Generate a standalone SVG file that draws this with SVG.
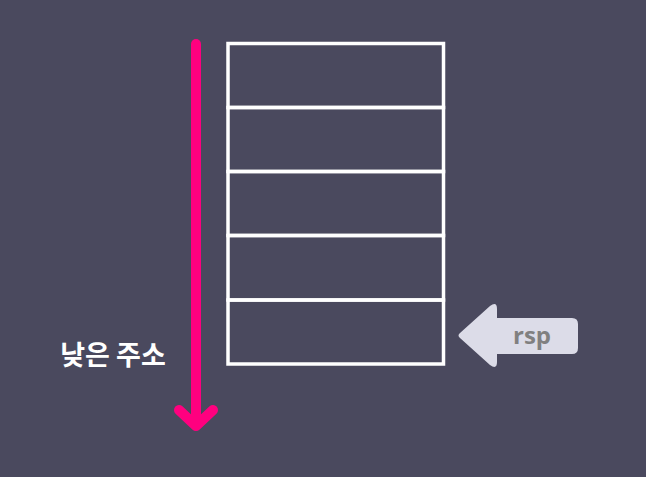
<svg xmlns="http://www.w3.org/2000/svg" width="646" height="477" viewBox="0 0 646 477">
<style>
.cell{fill:none;stroke:#ffffff;stroke-width:3.5}
.pink{fill:none;stroke:#ff007f;stroke-width:10;stroke-linecap:round;stroke-linejoin:round}
.lbl{font-family:"Noto Sans CJK KR","Noto Sans",sans-serif;font-weight:700;font-size:27px;fill:#ffffff}
.rsp{font-family:"Open Sans","Noto Sans",sans-serif;font-weight:700;font-size:24px;fill:#808080}
</style>
<rect width="646" height="477" fill="#4a495e"/>
<g id="stack">
<rect class="cell" x="228" y="43.5" width="215.5" height="64"/>
<rect class="cell" x="228" y="107.5" width="215.5" height="64"/>
<rect class="cell" x="228" y="171.5" width="215.5" height="64"/>
<rect class="cell" x="228" y="235.5" width="215.5" height="64.5"/>
<rect class="cell" x="228" y="300" width="215.5" height="64"/>
</g>
<g id="connectors">
<path class="pink" d="M196 44 V424"/>
<path class="pink" d="M179 410 L196 426 L213 410"/>
</g>
<g id="address-label">
<text class="lbl" x="113" y="365" text-anchor="middle">낮은 주소</text>
</g>
<g id="rsp-pointer">
<path d="M460 333 L490 306 Q497 301 497 309 V318 H572 Q578 318 578 324 V348 Q578 354 572 354 H497 V362 Q497 370 490 365 L460 338 Q457 335.5 460 333 Z" fill="#dcdce8"/>
<text class="rsp" x="532" y="344" text-anchor="middle">rsp</text>
</g>
</svg>
